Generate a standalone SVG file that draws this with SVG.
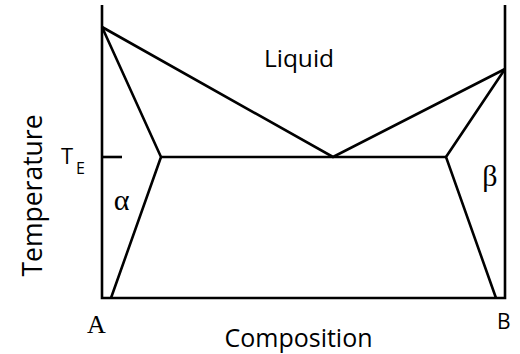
<svg xmlns="http://www.w3.org/2000/svg" width="520" height="354" viewBox="0 0 520 354">
<style>
.ln{fill:none;stroke:#000;stroke-width:2.6;stroke-linejoin:miter;stroke-linecap:butt}
.s{font-family:"Open Sans","Liberation Sans",sans-serif;fill:#000}
.r{font-family:"Liberation Serif","Times New Roman",serif;fill:#000}
</style>
<rect width="520" height="354" fill="#fff"/>
<g id="axes">
<polyline class="ln" points="102,5 102,298 505,298 505,5"/>
<line class="ln" x1="102" y1="157" x2="122" y2="157"/>
</g>
<g id="phase-lines">
<polyline class="ln" points="102,27 333,157 505,69"/>
<polyline class="ln" points="102,27 161,157 111,298"/>
<polyline class="ln" points="505,69 446,157 496,298"/>
<line class="ln" x1="161" y1="157" x2="446" y2="157"/>
</g>
<g id="labels">
<text class="s" x="299" y="67" font-size="24.5" text-anchor="middle">Liquid</text>
<text class="s" x="298.5" y="347" font-size="25" text-anchor="middle">Composition</text>
<text class="s" font-size="26.5" text-anchor="middle" transform="translate(42,195.5) rotate(-90)">Temperature</text>
<text class="s" x="61" y="164" font-size="22">T</text>
<text class="s" x="76" y="174" font-size="16">E</text>
<text class="r" x="121.5" y="210" font-size="30" text-anchor="middle">α</text>
<text class="r" x="490" y="186" font-size="30" text-anchor="middle">β</text>
<text class="r" x="87" y="333" font-size="26">A</text>
<text class="s" x="497" y="329" font-size="21">B</text>
</g>
</svg>
